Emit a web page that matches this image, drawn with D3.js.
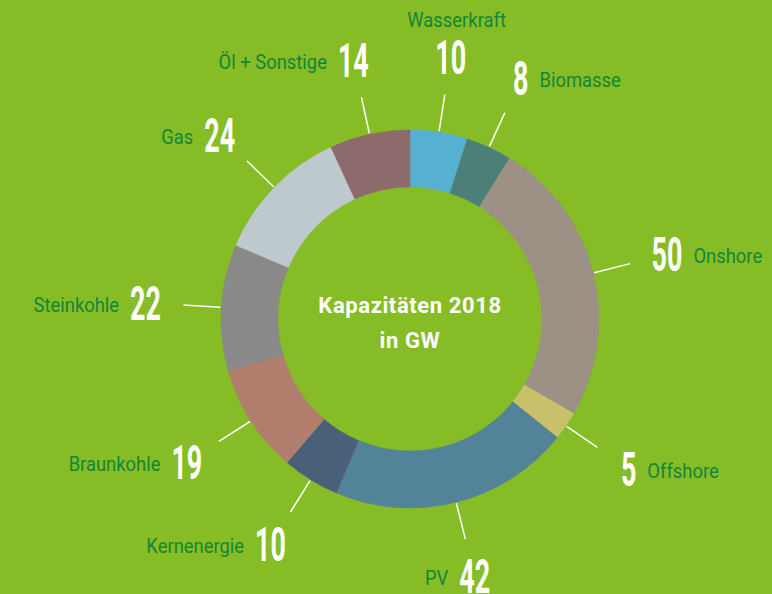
<!DOCTYPE html>
<html><head><meta charset="utf-8">
<script src="https://cdn.jsdelivr.net/npm/d3@7"></script>
<style>body{margin:0;background:#86bc25;} svg{display:block}</style>
</head><body><svg id="c" width="772" height="594"></svg>
<script>
// ---- data ----
const categories = ["Wasserkraft","Biomasse","Onshore","Offshore","PV","Kernenergie","Braunkohle","Steinkohle","Gas","Öl + Sonstige"];
const values = [10, 8, 50, 5, 42, 10, 19, 22, 24, 14];
const sliceColors = ["#56b0d1","#4d7f79","#9c9184","#c9c06b","#528399","#4a6079","#b17e6e","#898989","#bdc9cf","#8d6b6d"];
const labelSides = ["top","right","right","right","left","left","left","left","left","left"];
const titleLines = ["Kapazitäten 2018","in GW"];

// ---- layout ----
const W = 772, H = 594;
const cx = 410, cy = 319, rOuter = 189, rInner = 132;
const leadIn = 190, leadOut = 227, numR = 265;
const bg = "#86bc25", nameColor = "#12863a";
const numSize = 48, numScale = 0.56, nameSize = 20, nameScale = 0.92;

const svg = d3.select("#c");
svg.append("rect").attr("width", W).attr("height", H).attr("fill", bg);
const g = svg.append("g").attr("transform", `translate(${cx},${cy})`);

const data = categories.map((c, i) => ({name: c, value: values[i], color: sliceColors[i], side: labelSides[i]}));
const pie = d3.pie().value(d => d.value).sort(null).startAngle(0).endAngle(2 * Math.PI);
const arcs = pie(data);
const arc = d3.arc().innerRadius(rInner).outerRadius(rOuter);

g.selectAll("path.slice").data(arcs).join("path")
  .attr("class", "slice")
  .attr("d", arc)
  .attr("fill", d => d.data.color)
  .attr("stroke", d => d.data.color)
  .attr("stroke-width", 0.5);

const mid = d => (d.startAngle + d.endAngle) / 2;
const pt = (a, r) => [r * Math.sin(a), -r * Math.cos(a)];

// leader lines
g.selectAll("line.leader").data(arcs).join("line")
  .attr("class", "leader")
  .attr("x1", d => pt(mid(d), leadIn)[0]).attr("y1", d => pt(mid(d), leadIn)[1])
  .attr("x2", d => pt(mid(d), leadOut)[0]).attr("y2", d => pt(mid(d), leadOut)[1])
  .attr("stroke", "#ffffff").attr("stroke-width", 1.5);

// labels
const capH = numSize * 0.711;
arcs.forEach(d => {
  const [nx, ny] = pt(mid(d), numR);
  const base = ny + capH / 2;
  const ng = g.append("g").attr("transform", `translate(${nx},${base}) scale(${numScale},1)`);
  const nt = ng.append("text")
    .attr("text-anchor", "middle")
    .attr("font-family", "Roboto, sans-serif")
    .attr("font-weight", 700)
    .attr("font-size", numSize)
    .attr("fill", "#ffffff")
    .text(d.data.value);
  const nw = nt.node().getComputedTextLength() * numScale;
  let lx, ly, anchor;
  if (d.data.side === "right") { lx = nx + nw / 2 + 11; ly = base - 8; anchor = "start"; }
  else if (d.data.side === "left") { lx = nx - nw / 2 - 11; ly = base - 8; anchor = "end"; }
  else { lx = nx + 6; ly = base - capH - 13; anchor = "middle"; }
  g.append("g").attr("transform", `translate(${lx},${ly}) scale(${nameScale},1)`)
    .append("text")
    .attr("text-anchor", anchor)
    .attr("font-family", "Roboto, sans-serif")
    .attr("font-size", nameSize)
    .attr("fill", nameColor)
    .text(d.data.name);
});

// center title
g.selectAll("text.title").data(titleLines).join("text")
  .attr("class", "title")
  .attr("x", 0)
  .attr("y", (d, i) => -6 + i * 35)
  .attr("text-anchor", "middle")
  .attr("font-family", "Roboto, sans-serif")
  .attr("font-weight", 700)
  .attr("font-size", 22)
  .attr("letter-spacing", 0.6)
  .attr("fill", "#ffffff")
  .text(d => d);
</script>
</body></html>
